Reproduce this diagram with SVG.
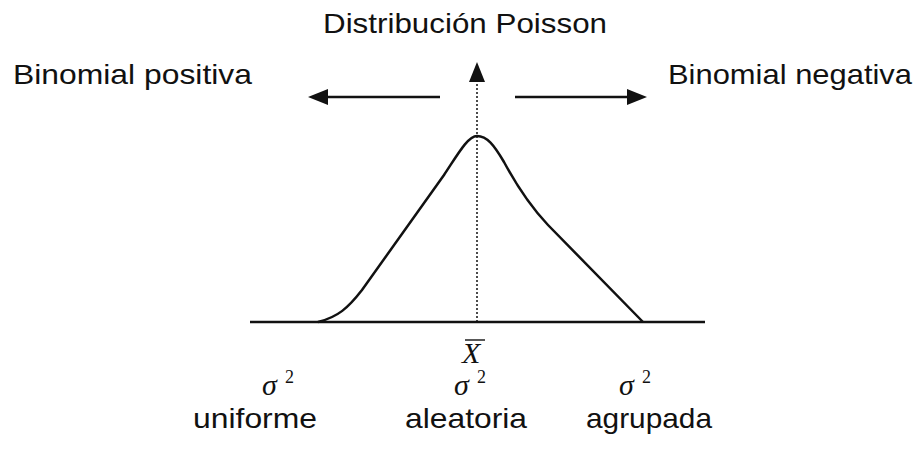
<svg xmlns="http://www.w3.org/2000/svg" width="924" height="449" viewBox="0 0 924 449">
<style>
.t{font-family:"Liberation Sans",Arial,sans-serif;font-size:28px;fill:#111}
.m{font-family:"Liberation Serif","Times New Roman",serif;font-style:italic;font-size:30px;fill:#111}
.s{font-family:"Liberation Serif","Times New Roman",serif;font-size:18px;fill:#111}
.ln{stroke:#111;stroke-width:2.5;fill:none}
.ah{fill:#111}
</style>
<rect width="924" height="449" fill="#fff"/>
<g id="title"><text class="t" x="465" y="33" text-anchor="middle" textLength="284" lengthAdjust="spacingAndGlyphs">Distribución Poisson</text></g>
<g id="binomial-positiva"><text class="t" x="13" y="84" textLength="239" lengthAdjust="spacingAndGlyphs">Binomial positiva</text></g>
<g id="binomial-negativa"><text class="t" x="668" y="84" textLength="244" lengthAdjust="spacingAndGlyphs">Binomial negativa</text></g>
<g id="curve">
<path class="ln" d="M250,322 H705"/>
<path class="ln" d="M318,322 C338,317 348,308 362,290 L444,175 C458,154 468,136 477,136 C487,136 494,145 504,162 C518,188 530,206 548,225 L643,322"/>
</g>
<g id="connectors">
<line x1="477" y1="80" x2="477" y2="322" stroke="#111" stroke-width="1.5" stroke-dasharray="2,2"/>
<polygon class="ah" points="477,62 469,82 485,82"/>
<line class="ln" x1="326" y1="97" x2="440" y2="97"/>
<polygon class="ah" points="308,97 328,89 328,105"/>
<line class="ln" x1="515" y1="97" x2="629" y2="97"/>
<polygon class="ah" points="647,97 627,89 627,105"/>
</g>
<g id="xbar">
<text class="m" x="462" y="363">X</text>
<line x1="465" y1="340" x2="485" y2="340" stroke="#111" stroke-width="1.4"/>
</g>
<g id="uniforme">
<text class="m" x="262" y="395">σ</text><text class="s" x="285" y="383">2</text>
<text class="t" x="255" y="428" text-anchor="middle" textLength="124" lengthAdjust="spacingAndGlyphs">uniforme</text>
</g>
<g id="aleatoria">
<text class="m" x="454" y="395">σ</text><text class="s" x="477" y="383">2</text>
<text class="t" x="466" y="428" text-anchor="middle" textLength="122" lengthAdjust="spacingAndGlyphs">aleatoria</text>
</g>
<g id="agrupada">
<text class="m" x="619" y="395">σ</text><text class="s" x="642" y="383">2</text>
<text class="t" x="649" y="428" text-anchor="middle" textLength="126" lengthAdjust="spacingAndGlyphs">agrupada</text>
</g>
</svg>
